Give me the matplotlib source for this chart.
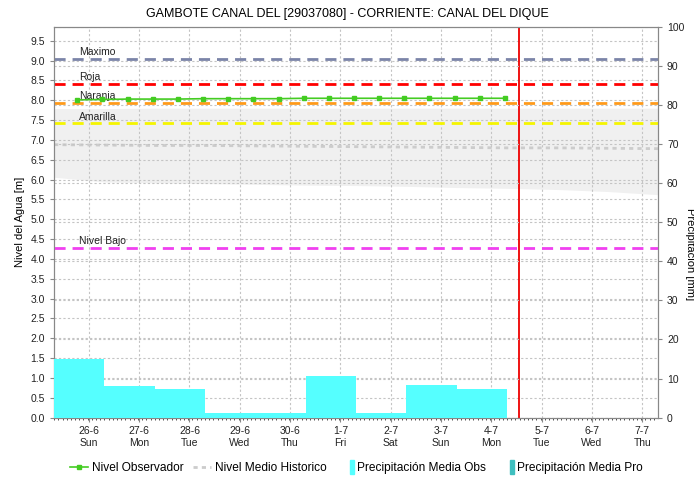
import numpy as np
import matplotlib
matplotlib.use("Agg")
import matplotlib.pyplot as plt
from matplotlib.patches import Patch, Rectangle
from matplotlib.lines import Line2D
from matplotlib.legend_handler import HandlerPatch

plt.rcParams['font.family'] = ['Liberation Sans', 'DejaVu Sans']

# eje x en dias desde 26-6 00:00
dias = ["26-6\nSun", "27-6\nMon", "28-6\nTue", "29-6\nWed", "30-6\nThu", "1-7\nFri",
        "2-7\nSat", "3-7\nSun", "4-7\nMon", "5-7\nTue", "6-7\nWed", "7-7\nThu"]
tick_dias = np.arange(12) + 0.69

# nivel observado, cada 12 horas
obs_t = np.arange(18) * 0.5 + 0.46
obs_nivel = [8.01, 8.02, 8.03, 8.03, 8.03, 8.04, 8.04, 8.04, 8.04,
             8.05, 8.05, 8.05, 8.05, 8.05, 8.05, 8.05, 8.05, 8.05]

# banda historica (min / max) y media historica
hist_t = np.arange(13)
hist_min = [6.06, 5.94, 5.92, 5.90, 5.88, 5.86, 5.85, 5.83, 5.80, 5.78, 5.75, 5.70, 5.62]
hist_max = [7.79, 7.79, 7.80, 7.80, 7.80, 7.80, 7.80, 7.80, 7.80, 7.80, 7.80, 7.80, 7.80]
hist_media = [6.88, 6.87, 6.86, 6.86, 6.85, 6.84, 6.83, 6.82, 6.81, 6.80, 6.80, 6.79, 6.78]

# precipitacion diaria [mm]
prec_t = np.arange(9)
prec_obs = [14.9, 8.1, 7.4, 1.2, 1.2, 10.6, 1.2, 8.3, 7.4]

# umbrales
umbral_nombre = ["Maximo", "Roja", "Naranja", "Amarilla", "Nivel Bajo"]
umbral_valor = [9.05, 8.41, 7.93, 7.42, 4.28]
umbral_color = ["#7b84a8", "#ff0000", "#ff9a1a", "#f5f500", "#f040f0"]

hoy = 9.24

fig = plt.figure(figsize=(6.94, 4.8), dpi=100)
ax = fig.add_axes([0.078, 0.13, 0.870, 0.814])
ax2 = ax.twinx()

ax.fill_between(hist_t, hist_min, hist_max, color="#f0f0f0", lw=0, zorder=1)
ax.plot(hist_t, hist_media, color="#cccccc", lw=2, ls=(0, (1.5, 1.5)), zorder=2)

for nombre, val, col in zip(umbral_nombre, umbral_valor, umbral_color):
    ax.axhline(val, color=col, lw=2, ls=(0, (4, 2.5)), zorder=3)
    ax.text(0.5, val + 0.04, nombre, fontsize=7.5, color="#222222", va="bottom", zorder=4)

ax.plot(obs_t, obs_nivel, color="#44cc22", lw=1.2, marker="s", ms=3, zorder=5)
ax.axvline(hoy, color="#ee0000", lw=1.3, zorder=6)

ax2.bar(prec_t, prec_obs, width=1.0, align="edge", color="#55ffff", lw=0, zorder=3)

ax.set_xlim(0, 12)
ax.set_ylim(0, 9.85)
ax2.set_ylim(0, 100)
ax.set_yticks(np.arange(0, 9.51, 0.5))
ax.set_yticklabels([f"{v:.1f}" for v in np.arange(0, 9.51, 0.5)])
ax2.set_yticks(np.arange(0, 101, 10))
ax.set_xticks(tick_dias)
ax.set_xticklabels(dias)
ax.set_xticks(np.arange(0, 12, 1 / 12), minor=True)

grid_kw = dict(color="#c4c4c4", lw=0.8, ls=(0, (2, 2)))
ax.grid(True, which="major", **grid_kw)
ax2.grid(True, axis="y", **grid_kw)
ax2.set_axisbelow(True)

for a in (ax, ax2):
    for s in a.spines.values():
        s.set_color("#888888")
    a.tick_params(labelsize=7.5, colors="#222222", length=3, width=0.8)
    a.tick_params(axis="both", color="#888888")
ax.tick_params(axis="x", which="minor", length=1.5, color="#333333")
ax.tick_params(axis="x", pad=3)

ax.set_ylabel("Nivel del Agua [m]", fontsize=8, labelpad=4)
fig.text(0.987, 0.47, "Precipitación [mm]", rotation=270, fontsize=8,
         va="center", ha="left")
fig.suptitle("GAMBOTE CANAL DEL [29037080] - CORRIENTE: CANAL DEL DIQUE",
             fontsize=9, y=0.984)


def barra_estrecha(legend, orig_handle, xdescent, ydescent, width, height, fontsize):
    return Rectangle((width - 0.45 * height - xdescent, -ydescent - 0.3 * height),
                     0.45 * height, 1.6 * height)


handles = [
    Line2D([], [], color="#44cc22", lw=1.2, marker="s", ms=3),
    Line2D([], [], color="#cccccc", lw=2, ls=(0, (1.5, 1.5))),
    Patch(color="#55ffff"),
    Patch(color="#3fbfbf"),
]
labels = ["Nivel Observador", "Nivel Medio Historico",
          "Precipitación Media Obs", "Precipitación Media Pro"]
fig.legend(handles, labels, loc="center", bbox_to_anchor=(0.514, 0.025), ncol=4,
           frameon=False, fontsize=8.6, handlelength=1.5, handletextpad=0.3,
           columnspacing=0.8,
           handler_map={Patch: HandlerPatch(patch_func=barra_estrecha)})

fig.savefig("out.png", dpi=100)
